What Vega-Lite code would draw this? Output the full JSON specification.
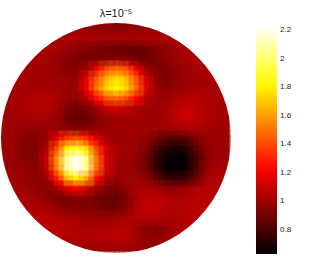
{"$schema":"https://vega.github.io/schema/vega-lite/v6.json","width":230,"height":230,"autosize":"none","padding":{"left":1,"top":23,"right":79,"bottom":20},"background":"white",
"title":{"text":"λ=10⁻⁵","font":"Liberation Sans","fontSize":11,"fontWeight":"normal","color":"#222222","anchor":"middle","offset":4,"dx":0},
"config":{"view":{"stroke":null}},
"datasets":{"cells":[
{"x":6,"y":0,"v":1.0},{"x":7,"y":0,"v":1.0},{"x":8,"y":0,"v":0.98},{"x":9,"y":0,"v":0.97},{"x":10,"y":0,"v":0.97},{"x":11,"y":0,"v":0.96},{"x":12,"y":0,"v":0.96},{"x":13,"y":0,"v":0.97},{"x":14,"y":0,"v":0.98},{"x":15,"y":0,"v":0.99},{"x":16,"y":0,"v":1.0},
{"x":4,"y":1,"v":1.03},{"x":5,"y":1,"v":1.04},{"x":6,"y":1,"v":1.03},{"x":7,"y":1,"v":1.03},{"x":8,"y":1,"v":1.03},{"x":9,"y":1,"v":1.03},{"x":10,"y":1,"v":1.03},{"x":11,"y":1,"v":1.03},{"x":12,"y":1,"v":1.02},{"x":13,"y":1,"v":1.03},{"x":14,"y":1,"v":1.04},{"x":15,"y":1,"v":1.04},{"x":16,"y":1,"v":1.04},{"x":17,"y":1,"v":1.03},{"x":18,"y":1,"v":1.02},
{"x":3,"y":2,"v":1.03},{"x":4,"y":2,"v":1.04},{"x":5,"y":2,"v":1.03},{"x":6,"y":2,"v":1.0},{"x":7,"y":2,"v":0.97},{"x":8,"y":2,"v":0.95},{"x":9,"y":2,"v":0.92},{"x":10,"y":2,"v":0.9},{"x":11,"y":2,"v":0.88},{"x":12,"y":2,"v":0.87},{"x":13,"y":2,"v":0.88},{"x":14,"y":2,"v":0.9},{"x":15,"y":2,"v":0.93},{"x":16,"y":2,"v":0.97},{"x":17,"y":2,"v":1.0},{"x":18,"y":2,"v":1.03},{"x":19,"y":2,"v":1.03},
{"x":2,"y":3,"v":1.03},{"x":3,"y":3,"v":1.03},{"x":4,"y":3,"v":1.02},{"x":5,"y":3,"v":0.99},{"x":6,"y":3,"v":0.95},{"x":7,"y":3,"v":0.92},{"x":8,"y":3,"v":0.9},{"x":9,"y":3,"v":0.9},{"x":10,"y":3,"v":0.93},{"x":11,"y":3,"v":0.95},{"x":12,"y":3,"v":0.94},{"x":13,"y":3,"v":0.9},{"x":14,"y":3,"v":0.89},{"x":15,"y":3,"v":0.93},{"x":16,"y":3,"v":0.97},{"x":17,"y":3,"v":1.0},{"x":18,"y":3,"v":1.03},{"x":19,"y":3,"v":1.04},{"x":20,"y":3,"v":1.03},
{"x":1,"y":4,"v":1.03},{"x":2,"y":4,"v":1.02},{"x":3,"y":4,"v":1.01},{"x":4,"y":4,"v":1.0},{"x":5,"y":4,"v":0.98},{"x":6,"y":4,"v":0.95},{"x":7,"y":4,"v":0.94},{"x":8,"y":4,"v":1.0},{"x":9,"y":4,"v":1.18},{"x":10,"y":4,"v":1.38},{"x":11,"y":4,"v":1.46},{"x":12,"y":4,"v":1.4},{"x":13,"y":4,"v":1.18},{"x":14,"y":4,"v":1.0},{"x":15,"y":4,"v":0.93},{"x":16,"y":4,"v":0.93},{"x":17,"y":4,"v":0.97},{"x":18,"y":4,"v":1.0},{"x":19,"y":4,"v":1.02},{"x":20,"y":4,"v":1.03},{"x":21,"y":4,"v":1.03},
{"x":1,"y":5,"v":1.03},{"x":2,"y":5,"v":1.02},{"x":3,"y":5,"v":1.01},{"x":4,"y":5,"v":1.01},{"x":5,"y":5,"v":1.0},{"x":6,"y":5,"v":0.98},{"x":7,"y":5,"v":0.98},{"x":8,"y":5,"v":1.15},{"x":9,"y":5,"v":1.42},{"x":10,"y":5,"v":1.65},{"x":11,"y":5,"v":1.76},{"x":12,"y":5,"v":1.65},{"x":13,"y":5,"v":1.42},{"x":14,"y":5,"v":1.12},{"x":15,"y":5,"v":0.97},{"x":16,"y":5,"v":0.92},{"x":17,"y":5,"v":0.96},{"x":18,"y":5,"v":1.0},{"x":19,"y":5,"v":1.02},{"x":20,"y":5,"v":1.02},{"x":21,"y":5,"v":1.03},
{"x":0,"y":6,"v":1.02},{"x":1,"y":6,"v":1.02},{"x":2,"y":6,"v":1.02},{"x":3,"y":6,"v":1.02},{"x":4,"y":6,"v":1.02},{"x":5,"y":6,"v":1.0},{"x":6,"y":6,"v":0.99},{"x":7,"y":6,"v":1.0},{"x":8,"y":6,"v":1.2},{"x":9,"y":6,"v":1.5},{"x":10,"y":6,"v":1.72},{"x":11,"y":6,"v":1.82},{"x":12,"y":6,"v":1.72},{"x":13,"y":6,"v":1.47},{"x":14,"y":6,"v":1.15},{"x":15,"y":6,"v":0.99},{"x":16,"y":6,"v":0.95},{"x":17,"y":6,"v":0.98},{"x":18,"y":6,"v":1.0},{"x":19,"y":6,"v":1.02},{"x":20,"y":6,"v":1.02},{"x":21,"y":6,"v":1.02},{"x":22,"y":6,"v":1.03},
{"x":0,"y":7,"v":1.02},{"x":1,"y":7,"v":1.02},{"x":2,"y":7,"v":1.03},{"x":3,"y":7,"v":1.05},{"x":4,"y":7,"v":1.06},{"x":5,"y":7,"v":1.03},{"x":6,"y":7,"v":1.0},{"x":7,"y":7,"v":0.98},{"x":8,"y":7,"v":1.05},{"x":9,"y":7,"v":1.25},{"x":10,"y":7,"v":1.42},{"x":11,"y":7,"v":1.48},{"x":12,"y":7,"v":1.4},{"x":13,"y":7,"v":1.22},{"x":14,"y":7,"v":1.05},{"x":15,"y":7,"v":0.99},{"x":16,"y":7,"v":0.99},{"x":17,"y":7,"v":1.04},{"x":18,"y":7,"v":1.06},{"x":19,"y":7,"v":1.05},{"x":20,"y":7,"v":1.04},{"x":21,"y":7,"v":1.02},{"x":22,"y":7,"v":1.02},
{"x":0,"y":8,"v":1.01},{"x":1,"y":8,"v":1.02},{"x":2,"y":8,"v":1.03},{"x":3,"y":8,"v":1.05},{"x":4,"y":8,"v":1.06},{"x":5,"y":8,"v":1.02},{"x":6,"y":8,"v":0.94},{"x":7,"y":8,"v":0.9},{"x":8,"y":8,"v":0.93},{"x":9,"y":8,"v":1.0},{"x":10,"y":8,"v":1.08},{"x":11,"y":8,"v":1.12},{"x":12,"y":8,"v":1.08},{"x":13,"y":8,"v":1.03},{"x":14,"y":8,"v":1.0},{"x":15,"y":8,"v":1.0},{"x":16,"y":8,"v":1.02},{"x":17,"y":8,"v":1.07},{"x":18,"y":8,"v":1.1},{"x":19,"y":8,"v":1.08},{"x":20,"y":8,"v":1.05},{"x":21,"y":8,"v":1.02},{"x":22,"y":8,"v":1.01},
{"x":0,"y":9,"v":1.0},{"x":1,"y":9,"v":1.01},{"x":2,"y":9,"v":1.02},{"x":3,"y":9,"v":1.03},{"x":4,"y":9,"v":1.02},{"x":5,"y":9,"v":0.98},{"x":6,"y":9,"v":0.9},{"x":7,"y":9,"v":0.86},{"x":8,"y":9,"v":0.88},{"x":9,"y":9,"v":0.94},{"x":10,"y":9,"v":0.98},{"x":11,"y":9,"v":1.0},{"x":12,"y":9,"v":1.01},{"x":13,"y":9,"v":1.01},{"x":14,"y":9,"v":1.0},{"x":15,"y":9,"v":1.0},{"x":16,"y":9,"v":1.03},{"x":17,"y":9,"v":1.07},{"x":18,"y":9,"v":1.1},{"x":19,"y":9,"v":1.08},{"x":20,"y":9,"v":1.05},{"x":21,"y":9,"v":1.02},{"x":22,"y":9,"v":1.01},
{"x":0,"y":10,"v":1.0},{"x":1,"y":10,"v":1.0},{"x":2,"y":10,"v":0.98},{"x":3,"y":10,"v":0.98},{"x":4,"y":10,"v":0.98},{"x":5,"y":10,"v":0.99},{"x":6,"y":10,"v":0.96},{"x":7,"y":10,"v":0.94},{"x":8,"y":10,"v":0.95},{"x":9,"y":10,"v":0.97},{"x":10,"y":10,"v":0.99},{"x":11,"y":10,"v":1.01},{"x":12,"y":10,"v":1.01},{"x":13,"y":10,"v":1.0},{"x":14,"y":10,"v":1.0},{"x":15,"y":10,"v":1.0},{"x":16,"y":10,"v":1.01},{"x":17,"y":10,"v":1.03},{"x":18,"y":10,"v":1.04},{"x":19,"y":10,"v":1.03},{"x":20,"y":10,"v":1.02},{"x":21,"y":10,"v":1.01},{"x":22,"y":10,"v":1.0},
{"x":0,"y":11,"v":1.0},{"x":1,"y":11,"v":0.98},{"x":2,"y":11,"v":0.95},{"x":3,"y":11,"v":0.93},{"x":4,"y":11,"v":0.98},{"x":5,"y":11,"v":1.15},{"x":6,"y":11,"v":1.35},{"x":7,"y":11,"v":1.42},{"x":8,"y":11,"v":1.32},{"x":9,"y":11,"v":1.15},{"x":10,"y":11,"v":1.03},{"x":11,"y":11,"v":1.0},{"x":12,"y":11,"v":1.01},{"x":13,"y":11,"v":1.0},{"x":14,"y":11,"v":0.98},{"x":15,"y":11,"v":0.92},{"x":16,"y":11,"v":0.85},{"x":17,"y":11,"v":0.82},{"x":18,"y":11,"v":0.84},{"x":19,"y":11,"v":0.92},{"x":20,"y":11,"v":0.98},{"x":21,"y":11,"v":1.0},{"x":22,"y":11,"v":1.0},
{"x":0,"y":12,"v":1.0},{"x":1,"y":12,"v":0.98},{"x":2,"y":12,"v":0.94},{"x":3,"y":12,"v":0.93},{"x":4,"y":12,"v":1.05},{"x":5,"y":12,"v":1.4},{"x":6,"y":12,"v":1.78},{"x":7,"y":12,"v":1.9},{"x":8,"y":12,"v":1.74},{"x":9,"y":12,"v":1.38},{"x":10,"y":12,"v":1.12},{"x":11,"y":12,"v":1.02},{"x":12,"y":12,"v":1.01},{"x":13,"y":12,"v":0.99},{"x":14,"y":12,"v":0.93},{"x":15,"y":12,"v":0.8},{"x":16,"y":12,"v":0.72},{"x":17,"y":12,"v":0.68},{"x":18,"y":12,"v":0.72},{"x":19,"y":12,"v":0.85},{"x":20,"y":12,"v":0.96},{"x":21,"y":12,"v":1.0},{"x":22,"y":12,"v":1.0},
{"x":0,"y":13,"v":1.0},{"x":1,"y":13,"v":0.98},{"x":2,"y":13,"v":0.95},{"x":3,"y":13,"v":0.94},{"x":4,"y":13,"v":1.1},{"x":5,"y":13,"v":1.55},{"x":6,"y":13,"v":2.05},{"x":7,"y":13,"v":2.22},{"x":8,"y":13,"v":2.03},{"x":9,"y":13,"v":1.5},{"x":10,"y":13,"v":1.15},{"x":11,"y":13,"v":1.02},{"x":12,"y":13,"v":1.0},{"x":13,"y":13,"v":0.97},{"x":14,"y":13,"v":0.9},{"x":15,"y":13,"v":0.74},{"x":16,"y":13,"v":0.65},{"x":17,"y":13,"v":0.63},{"x":18,"y":13,"v":0.66},{"x":19,"y":13,"v":0.8},{"x":20,"y":13,"v":0.95},{"x":21,"y":13,"v":1.0},{"x":22,"y":13,"v":1.0},
{"x":0,"y":14,"v":1.0},{"x":1,"y":14,"v":0.99},{"x":2,"y":14,"v":0.97},{"x":3,"y":14,"v":0.95},{"x":4,"y":14,"v":1.08},{"x":5,"y":14,"v":1.52},{"x":6,"y":14,"v":2.05},{"x":7,"y":14,"v":2.22},{"x":8,"y":14,"v":2.05},{"x":9,"y":14,"v":1.48},{"x":10,"y":14,"v":1.13},{"x":11,"y":14,"v":1.0},{"x":12,"y":14,"v":0.99},{"x":13,"y":14,"v":0.97},{"x":14,"y":14,"v":0.9},{"x":15,"y":14,"v":0.76},{"x":16,"y":14,"v":0.66},{"x":17,"y":14,"v":0.63},{"x":18,"y":14,"v":0.67},{"x":19,"y":14,"v":0.82},{"x":20,"y":14,"v":0.97},{"x":21,"y":14,"v":1.02},{"x":22,"y":14,"v":1.02},
{"x":0,"y":15,"v":1.02},{"x":1,"y":15,"v":1.01},{"x":2,"y":15,"v":0.98},{"x":3,"y":15,"v":0.96},{"x":4,"y":15,"v":1.0},{"x":5,"y":15,"v":1.28},{"x":6,"y":15,"v":1.65},{"x":7,"y":15,"v":1.8},{"x":8,"y":15,"v":1.63},{"x":9,"y":15,"v":1.25},{"x":10,"y":15,"v":1.03},{"x":11,"y":15,"v":0.98},{"x":12,"y":15,"v":1.0},{"x":13,"y":15,"v":1.0},{"x":14,"y":15,"v":0.95},{"x":15,"y":15,"v":0.86},{"x":16,"y":15,"v":0.77},{"x":17,"y":15,"v":0.74},{"x":18,"y":15,"v":0.78},{"x":19,"y":15,"v":0.9},{"x":20,"y":15,"v":1.02},{"x":21,"y":15,"v":1.05},{"x":22,"y":15,"v":1.04},
{"x":0,"y":16,"v":1.03},{"x":1,"y":16,"v":1.02},{"x":2,"y":16,"v":1.0},{"x":3,"y":16,"v":0.97},{"x":4,"y":16,"v":0.95},{"x":5,"y":16,"v":1.0},{"x":6,"y":16,"v":1.15},{"x":7,"y":16,"v":1.22},{"x":8,"y":16,"v":1.13},{"x":9,"y":16,"v":1.0},{"x":10,"y":16,"v":0.93},{"x":11,"y":16,"v":0.93},{"x":12,"y":16,"v":0.98},{"x":13,"y":16,"v":1.02},{"x":14,"y":16,"v":1.03},{"x":15,"y":16,"v":1.01},{"x":16,"y":16,"v":0.97},{"x":17,"y":16,"v":0.97},{"x":18,"y":16,"v":1.0},{"x":19,"y":16,"v":1.04},{"x":20,"y":16,"v":1.06},{"x":21,"y":16,"v":1.06},{"x":22,"y":16,"v":1.05},
{"x":1,"y":17,"v":1.04},{"x":2,"y":17,"v":1.03},{"x":3,"y":17,"v":1.0},{"x":4,"y":17,"v":0.97},{"x":5,"y":17,"v":0.92},{"x":6,"y":17,"v":0.92},{"x":7,"y":17,"v":0.94},{"x":8,"y":17,"v":0.93},{"x":9,"y":17,"v":0.9},{"x":10,"y":17,"v":0.88},{"x":11,"y":17,"v":0.87},{"x":12,"y":17,"v":0.92},{"x":13,"y":17,"v":1.02},{"x":14,"y":17,"v":1.07},{"x":15,"y":17,"v":1.07},{"x":16,"y":17,"v":1.05},{"x":17,"y":17,"v":1.04},{"x":18,"y":17,"v":1.05},{"x":19,"y":17,"v":1.07},{"x":20,"y":17,"v":1.07},{"x":21,"y":17,"v":1.06},
{"x":1,"y":18,"v":1.05},{"x":2,"y":18,"v":1.04},{"x":3,"y":18,"v":1.03},{"x":4,"y":18,"v":1.02},{"x":5,"y":18,"v":0.98},{"x":6,"y":18,"v":0.95},{"x":7,"y":18,"v":0.94},{"x":8,"y":18,"v":0.94},{"x":9,"y":18,"v":0.93},{"x":10,"y":18,"v":0.9},{"x":11,"y":18,"v":0.9},{"x":12,"y":18,"v":0.95},{"x":13,"y":18,"v":1.04},{"x":14,"y":18,"v":1.09},{"x":15,"y":18,"v":1.09},{"x":16,"y":18,"v":1.06},{"x":17,"y":18,"v":1.05},{"x":18,"y":18,"v":1.05},{"x":19,"y":18,"v":1.07},{"x":20,"y":18,"v":1.07},{"x":21,"y":18,"v":1.06},
{"x":2,"y":19,"v":1.06},{"x":3,"y":19,"v":1.06},{"x":4,"y":19,"v":1.06},{"x":5,"y":19,"v":1.05},{"x":6,"y":19,"v":1.03},{"x":7,"y":19,"v":1.02},{"x":8,"y":19,"v":1.0},{"x":9,"y":19,"v":1.0},{"x":10,"y":19,"v":1.0},{"x":11,"y":19,"v":1.01},{"x":12,"y":19,"v":1.03},{"x":13,"y":19,"v":1.06},{"x":14,"y":19,"v":1.06},{"x":15,"y":19,"v":1.05},{"x":16,"y":19,"v":1.03},{"x":17,"y":19,"v":1.03},{"x":18,"y":19,"v":1.05},{"x":19,"y":19,"v":1.06},{"x":20,"y":19,"v":1.05},
{"x":3,"y":20,"v":1.05},{"x":4,"y":20,"v":1.06},{"x":5,"y":20,"v":1.07},{"x":6,"y":20,"v":1.07},{"x":7,"y":20,"v":1.05},{"x":8,"y":20,"v":1.04},{"x":9,"y":20,"v":1.04},{"x":10,"y":20,"v":1.05},{"x":11,"y":20,"v":1.06},{"x":12,"y":20,"v":1.05},{"x":13,"y":20,"v":1.0},{"x":14,"y":20,"v":0.95},{"x":15,"y":20,"v":0.93},{"x":16,"y":20,"v":0.97},{"x":17,"y":20,"v":1.03},{"x":18,"y":20,"v":1.05},{"x":19,"y":20,"v":1.05},
{"x":4,"y":21,"v":1.03},{"x":5,"y":21,"v":1.05},{"x":6,"y":21,"v":1.05},{"x":7,"y":21,"v":1.05},{"x":8,"y":21,"v":1.04},{"x":9,"y":21,"v":1.05},{"x":10,"y":21,"v":1.06},{"x":11,"y":21,"v":1.07},{"x":12,"y":21,"v":1.06},{"x":13,"y":21,"v":1.02},{"x":14,"y":21,"v":0.97},{"x":15,"y":21,"v":0.97},{"x":16,"y":21,"v":1.0},{"x":17,"y":21,"v":1.03},{"x":18,"y":21,"v":1.03},
{"x":6,"y":22,"v":1.0},{"x":7,"y":22,"v":1.0},{"x":8,"y":22,"v":1.0},{"x":9,"y":22,"v":1.0},{"x":10,"y":22,"v":1.0},{"x":11,"y":22,"v":1.0},{"x":12,"y":22,"v":1.0},{"x":13,"y":22,"v":0.99},{"x":14,"y":22,"v":0.98},{"x":15,"y":22,"v":0.98},{"x":16,"y":22,"v":0.99}
]},
"layer":[
{"data":{"name":"cells"},"mark":{"type":"rect","width":11,"height":11,"xOffset":-2,"yOffset":-2,"clip":true},
"encoding":{"x":{"field":"x","type":"quantitative","scale":{"domain":[-0.5,22.5],"nice":false,"zero":false},"axis":null},
"y":{"field":"y","type":"quantitative","scale":{"domain":[-0.5,22.5],"nice":false,"zero":false,"reverse":true},"axis":null},
"color":{"field":"v","type":"quantitative","scale":{"type":"linear","domain":[0.632,2.228],"interpolate":"rgb","range":["#000000","#550000","#aa0000","#ff0000","#ff5500","#ffaa00","#ffff00","#ffff80","#ffffff"]},
"legend":{"title":null,"orient":"none","legendX":255,"legendY":3,"padding":0,"gradientLength":228,"gradientThickness":21,"gradientOpacity":1,"values":[0.8,1,1.2,1.4,1.6,1.8,2,2.2],"labelFont":"Liberation Sans","labelFontSize":8,"labelColor":"#222222","labelOffset":3,"labelOverlap":false,"format":"~g","gradientStrokeWidth":0}}}},
{"data":{"name":"cells"},"mark":{"type":"rect","width":11,"height":11,"xOffset":3,"yOffset":3,"opacity":0.5,"clip":true},
"encoding":{"x":{"field":"x","type":"quantitative","scale":{"domain":[-0.5,22.5],"nice":false,"zero":false},"axis":null},"y":{"field":"y","type":"quantitative","scale":{"domain":[-0.5,22.5],"nice":false,"zero":false,"reverse":true},"axis":null},"color":{"field":"v","type":"quantitative","scale":{"type":"linear","domain":[0.632,2.228],"interpolate":"rgb","range":["#000000","#550000","#aa0000","#ff0000","#ff5500","#ffaa00","#ffff00","#ffff80","#ffffff"]},"legend":null}}},
{"data":{"values":[{"x":11,"y":11}]},"mark":{"type":"point","shape":"circle","filled":false,"clip":true,"size":77284,"strokeWidth":48,"stroke":"white","opacity":1},
"encoding":{"x":{"field":"x","type":"quantitative","scale":{"domain":[-0.5,22.5],"nice":false,"zero":false},"axis":null},"y":{"field":"y","type":"quantitative","scale":{"domain":[-0.5,22.5],"nice":false,"zero":false,"reverse":true},"axis":null}}}
]}
